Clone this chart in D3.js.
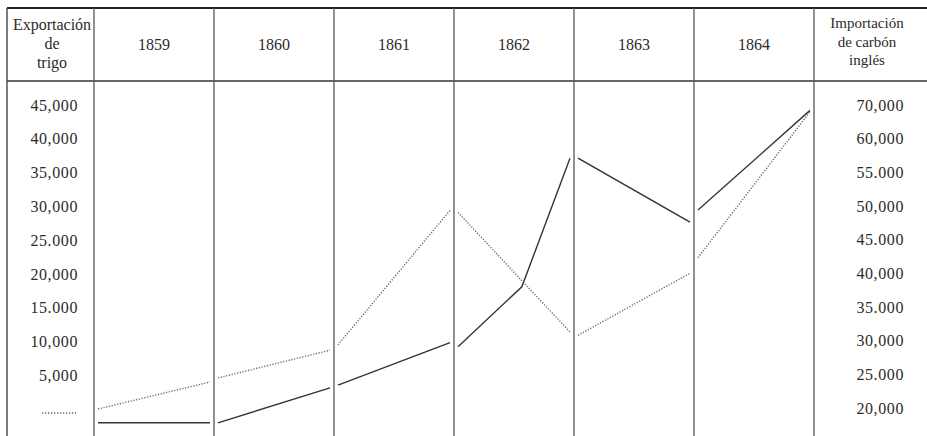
<!DOCTYPE html>
<html>
<head>
<meta charset="utf-8">
<script src="https://cdn.jsdelivr.net/npm/d3@7"></script>
<style>
  body { margin: 0; background: #fff; }
  .axis .domain { display: none; }
</style>
</head>
<body>
<div class="chart"></div>
<script>
// years (one column each)
var years = [1859, 1860, 1861, 1862, 1863, 1864];

// values inside each year column (start, [middle], end)
var wheatExport = [[0, 4000], [4600, 8700], [9500, 29400], [29100, 11400], [10900, 20100], [22400, 44000]];
var coalImport = [[17800, 17800], [17800, 23000], [23400, 29700], [29100, 38000, 57100], [57100, 47600], [49400, 64200]];

// tick labels
var leftTicks = [5000, 10000, 15000, 20000, 25000, 30000, 35000, 40000, 45000];
var leftLabels = ['5,000', '10,000', '15.000', '20,000', '25.000', '30,000', '35,000', '40,000', '45,000'];
var rightTicks = [20000, 25000, 30000, 35000, 40000, 45000, 50000, 55000, 60000, 65000];
var rightLabels = ['20,000', '25.000', '30,000', '35.000', '40,000', '45.000', '50,000', '55.000', '60,000', '70,000'];

var leftTitle = ['Exportación', 'de', 'trigo'];
var rightTitle = ['Importación', 'de carbón', 'inglés'];

var serif = "'Liberation Serif', 'DejaVu Serif', serif";
var width = 927, height = 436;

var svg = d3.select('.chart').append('svg')
    .attr('width', width)
    .attr('height', height);

// set the ranges
var x = d3.scaleLinear().domain([1859, 1865]).range([94, 814]);
var yLeft = d3.scaleLinear().domain([0, 45000]).range([409, 105]);
var yRight = d3.scaleLinear().domain([20000, 65000]).range([408, 105]);

// table rules
svg.append('line')
    .attr('x1', 7).attr('x2', width).attr('y1', 8).attr('y2', 8)
    .attr('stroke', '#222').attr('stroke-width', 2);
svg.append('line')
    .attr('x1', 7).attr('x2', width).attr('y1', 81).attr('y2', 81)
    .attr('stroke', '#333').attr('stroke-width', 1.4);
svg.append('line')
    .attr('x1', 7).attr('x2', 7).attr('y1', 8).attr('y2', height)
    .attr('stroke', '#444').attr('stroke-width', 1.4);

var bounds = years.concat([1865]);
svg.selectAll('.vrule')
    .data(bounds)
    .enter().append('line')
    .attr('class', 'vrule')
    .attr('x1', function (d) { return x(d); })
    .attr('x2', function (d) { return x(d); })
    .attr('y1', 8).attr('y2', height)
    .attr('stroke', '#555').attr('stroke-width', 1.3);

// header
svg.selectAll('.year')
    .data(years)
    .enter().append('text')
    .attr('class', 'year')
    .attr('x', function (d) { return x(d + 0.5); })
    .attr('y', 50)
    .attr('text-anchor', 'middle')
    .style('font-family', serif)
    .style('font-size', '16px')
    .attr('fill', '#2b2b2b')
    .text(function (d) { return d; });

svg.selectAll('.ltitle')
    .data(leftTitle)
    .enter().append('text')
    .attr('class', 'ltitle')
    .attr('x', 52)
    .attr('y', function (d, i) { return 30 + i * 19; })
    .attr('text-anchor', 'middle')
    .style('font-family', serif)
    .style('font-size', '16px')
    .attr('fill', '#2b2b2b')
    .text(function (d) { return d; });

svg.selectAll('.rtitle')
    .data(rightTitle)
    .enter().append('text')
    .attr('class', 'rtitle')
    .attr('x', 867)
    .attr('y', function (d, i) { return 28 + i * 18.5; })
    .attr('text-anchor', 'middle')
    .style('font-family', serif)
    .style('font-size', '15px')
    .attr('fill', '#2b2b2b')
    .text(function (d) { return d; });

// axes
var leftAxis = svg.append('g')
    .attr('class', 'axis')
    .attr('transform', 'translate(78,0)')
    .call(d3.axisLeft(yLeft).tickValues(leftTicks).tickSize(0).tickPadding(0)
        .tickFormat(function (d, i) { return leftLabels[i]; }));
leftAxis.selectAll('text')
    .style('font-family', serif)
    .style('font-size', '16px')
    .style('letter-spacing', '0.6px')
    .attr('fill', '#2b2b2b');

var rightAxis = svg.append('g')
    .attr('class', 'axis')
    .attr('transform', 'translate(904,0)')
    .call(d3.axisLeft(yRight).tickValues(rightTicks).tickSize(0).tickPadding(0)
        .tickFormat(function (d, i) { return rightLabels[i]; }));
rightAxis.selectAll('text')
    .style('font-family', serif)
    .style('font-size', '16px')
    .style('letter-spacing', '0.6px')
    .attr('fill', '#2b2b2b');

// dotted zero mark on the left
svg.append('line')
    .attr('x1', 42).attr('x2', 76)
    .attr('y1', yLeft(0) + 4).attr('y2', yLeft(0) + 4)
    .attr('stroke', '#666').attr('stroke-width', 1.3)
    .attr('stroke-dasharray', '1.3,1.7');

// one segment per year column
function segments(values, yScale) {
    return values.map(function (vals, i) {
        var x0 = x(years[i]) + 4, x1 = x(years[i] + 1) - 4;
        return vals.map(function (v, j) {
            var t = vals.length === 3 && j === 1 ? 0.57 : j / (vals.length - 1);
            return [x0 + (x1 - x0) * t, yScale(v)];
        });
    });
}

var line = d3.line();

svg.selectAll('.wheat')
    .data(segments(wheatExport, yLeft))
    .enter().append('path')
    .attr('class', 'wheat')
    .attr('d', line)
    .attr('fill', 'none')
    .attr('stroke', '#666')
    .attr('stroke-width', 1.4)
    .attr('stroke-dasharray', '1.2,1.6');

svg.selectAll('.coal')
    .data(segments(coalImport, yRight))
    .enter().append('path')
    .attr('class', 'coal')
    .attr('d', line)
    .attr('fill', 'none')
    .attr('stroke', '#333')
    .attr('stroke-width', 1.4);
</script>
</body>
</html>
